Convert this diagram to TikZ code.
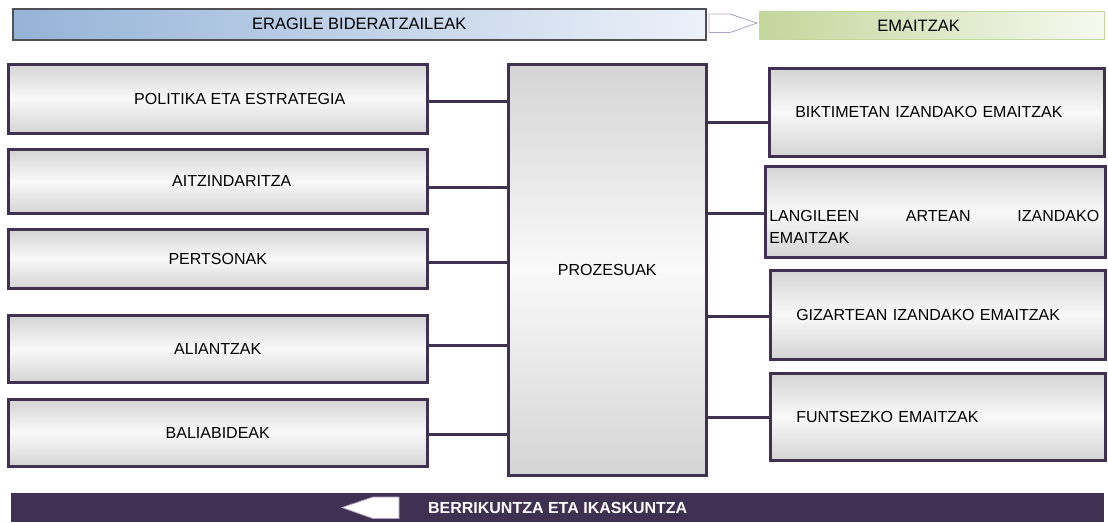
\documentclass[tikz,border=0pt]{standalone}
\usepackage{fontspec}
\setmainfont{Liberation Sans}
\usetikzlibrary{positioning}

\definecolor{linepurple}{RGB}{64,49,82}
\definecolor{boxgray}{RGB}{212,212,212}
\definecolor{boxlight}{RGB}{249,249,249}
\definecolor{bandedge}{RGB}{80,80,84}
\definecolor{bandblue}{RGB}{149,179,215}
\definecolor{bandbluelight}{RGB}{236,241,249}
\definecolor{bandgreen}{RGB}{195,214,155}
\definecolor{bandgreenlight}{RGB}{246,249,240}
\definecolor{arrowlilac}{RGB}{179,162,199}

\begin{document}
\begin{tikzpicture}[x=1pt,y=-1pt,font=\fontsize{16}{19}\selectfont]
	\tikzstyle{grad}=[draw=linepurple,line width=2.5pt,top color=boxgray,bottom color=boxgray,middle color=boxlight,inner sep=0pt,anchor=north west]
	\tikzstyle{lbox}=[grad,minimum width=419pt]
	\tikzstyle{rbox}=[grad,minimum width=335pt,text width=283pt,inner xsep=26pt,align=left]
	\tikzstyle{conn}=[draw=linepurple,line width=2.8pt]
	\tikzstyle{hollow}=[draw=arrowlilac,line width=0.8pt,fill=white]
	\tikzstyle{band}=[inner sep=0pt,anchor=north west,font=\fontsize{16.5}{19}\selectfont]
	\useasboundingbox (0,0) rectangle (1108,522);
		% top bands
		\node[band,draw=bandedge,line width=1.5pt,left color=bandblue,right color=bandbluelight,minimum width=693pt,minimum height=31pt] (drv) at (12,8) {ERAGILE BIDERATZAILEAK};
		\node[band,draw=bandgreen,line width=1.2pt,left color=bandgreen,right color=bandgreenlight,minimum width=345pt,minimum height=28pt] (res) at (759,11) {\hspace*{-27pt}EMAITZAK};
		\draw[hollow] (709,14) -- (730,14) -- (757,23) -- (730,32.5) -- (709,32.5) -- cycle;
		% eragileak
		\node[lbox,minimum height=69pt] (pol) at (7,63) {\hspace*{44pt}POLITIKA ETA ESTRATEGIA};
		\node[lbox,minimum height=64pt] (aitz) at (7,148) {\hspace*{28pt}AITZINDARITZA};
		\node[lbox,minimum height=59pt] (pert) at (7,228) {PERTSONAK};
		\node[lbox,minimum height=67pt] (ali) at (7,314) {ALIANTZAK};
		\node[lbox,minimum height=67pt] (bal) at (7,398) {BALIABIDEAK};
		% prozesuak
		\node[grad,minimum width=198pt,minimum height=411pt] (proz) at (507,63) {PROZESUAK};
		% emaitzak
		\node[rbox,minimum height=88pt] (bikt) at (768,67) {BIKTIMETAN IZANDAKO EMAITZAK};
		\node[rbox,minimum height=91pt,inner xsep=4pt,text width=332pt,font=\fontsize{16}{22}\selectfont] (lang) at (764,165) {\rule{0pt}{41pt}\makebox[330pt][s]{LANGILEEN\hfill ARTEAN\hfill IZANDAKO}\\EMAITZAK};
		\node[rbox,minimum height=89pt] (giz) at (769,269) {GIZARTEAN IZANDAKO EMAITZAK};
		\node[rbox,minimum height=87pt] (funt) at (769,372) {FUNTSEZKO EMAITZAK};
			\draw[conn] ([yshift=-3pt]pol.east) -- ([yshift=-3pt]pol.east -| proz.west);
			\draw[conn] ([yshift=-6pt]aitz.east) -- ([yshift=-6pt]aitz.east -| proz.west);
			\draw[conn] ([yshift=-4pt]pert.east) -- ([yshift=-4pt]pert.east -| proz.west);
			\draw[conn] ([yshift=3pt]ali.east) -- ([yshift=3pt]ali.east -| proz.west);
			\draw[conn] ([yshift=-2pt]bal.east) -- ([yshift=-2pt]bal.east -| proz.west);
			\draw[conn] ([yshift=-10pt]bikt.west -| proz.east) -- ([yshift=-10pt]bikt.west);
			\draw[conn] ([yshift=-2pt]lang.west -| proz.east) -- ([yshift=-2pt]lang.west);
			\draw[conn] ([yshift=-2pt]giz.west -| proz.east) -- ([yshift=-2pt]giz.west);
			\draw[conn] ([yshift=-1pt]funt.west -| proz.east) -- ([yshift=-1pt]funt.west);
		% bottom band
		\node[band,fill=linepurple,text=white,font=\bfseries\fontsize{16}{19}\selectfont,minimum width=1093pt,minimum height=29pt] (inno) at (11,493) {BERRIKUNTZA ETA IKASKUNTZA};
		\draw[hollow] (399,497) -- (373,497) -- (342,507.5) -- (373,518.5) -- (399,518.5) -- cycle;
\end{tikzpicture}
\end{document}
